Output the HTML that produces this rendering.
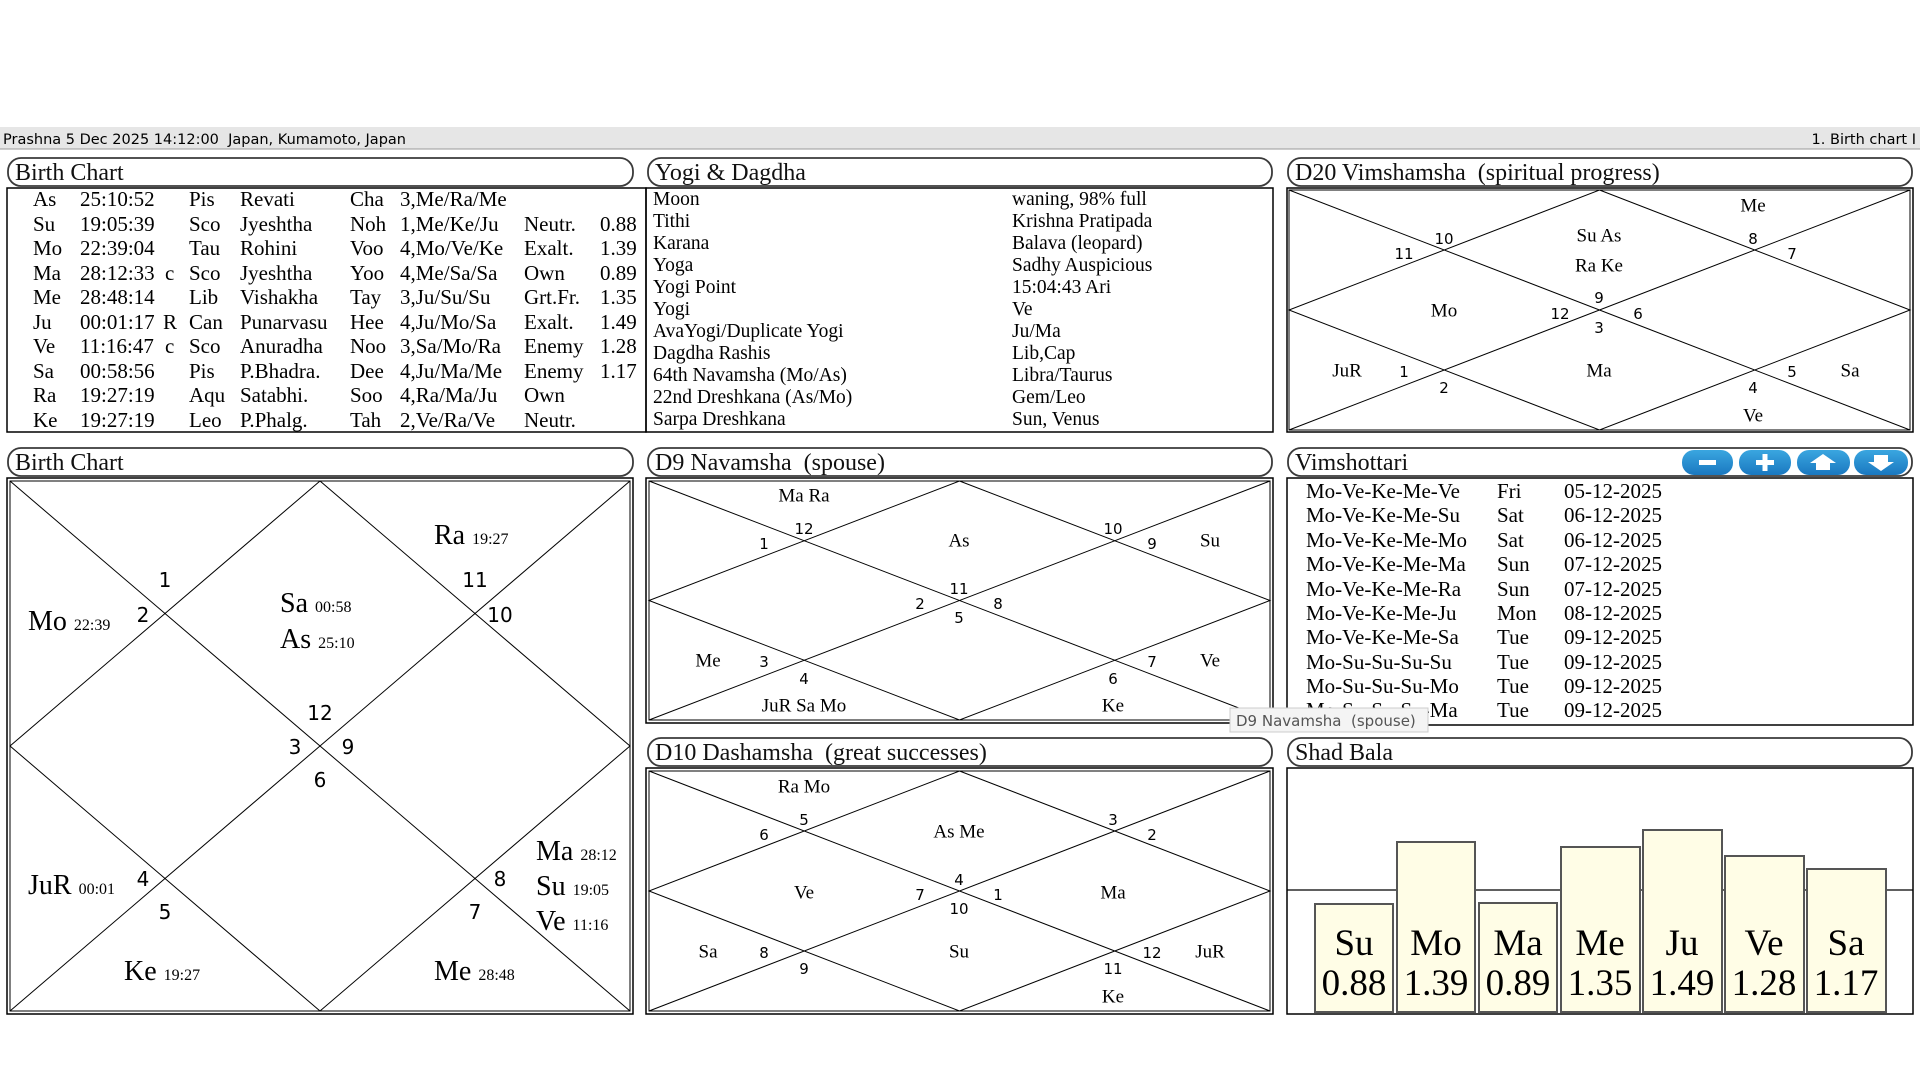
<!DOCTYPE html>
<html><head><meta charset="utf-8"><style>
html,body{margin:0;padding:0;background:#fff;width:1920px;height:1080px;overflow:hidden}
svg{display:block}
.s{font-family:"Liberation Serif",serif;fill:#000}
.n{font-family:"DejaVu Sans","Liberation Sans",sans-serif;fill:#000}
.t{font-family:"Liberation Serif",serif;font-size:24px;fill:#111}
</style></head><body>
<svg width="1920" height="1080" viewBox="0 0 1920 1080" xmlns="http://www.w3.org/2000/svg">
<!-- header -->
<rect x="0" y="127" width="1920" height="22" fill="#e6e6e6"/>
<line x1="0" y1="149" x2="1920" y2="149" stroke="#999" stroke-width="1"/>
<text x="3" y="144" font-family="DejaVu Sans, sans-serif" font-size="14.5" fill="#000">Prashna 5 Dec 2025 14:12:00&#160;&#160;Japan, Kumamoto, Japan</text>
<text x="1916" y="144" text-anchor="end" font-family="DejaVu Sans, sans-serif" font-size="14.5" fill="#000">1. Birth chart I</text>

<!-- title bars -->
<g fill="#fff" stroke="#3a3a3a" stroke-width="1.8">
<rect x="8" y="158" width="625" height="28" rx="13"/>
<rect x="648" y="158" width="624" height="28" rx="13"/>
<rect x="1288" y="158" width="624" height="28" rx="13"/>
<rect x="8" y="448" width="625" height="28" rx="13"/>
<rect x="648" y="448" width="624" height="28" rx="13"/>
<rect x="1288" y="448" width="624" height="28" rx="13"/>
<rect x="648" y="738" width="624" height="28" rx="13"/>
<rect x="1288" y="738" width="624" height="28" rx="13"/>
</g>
<g class="t">
<text x="15" y="180">Birth Chart</text>
<text x="655" y="180">Yogi &amp; Dagdha</text>
<text x="1295" y="180">D20 Vimshamsha&#160;&#160;(spiritual progress)</text>
<text x="15" y="470">Birth Chart</text>
<text x="655" y="470">D9 Navamsha&#160;&#160;(spouse)</text>
<text x="1295" y="470">Vimshottari</text>
<text x="655" y="760">D10 Dashamsha&#160;&#160;(great successes)</text>
<text x="1295" y="760">Shad Bala</text>
</g>

<!-- buttons -->
<defs><linearGradient id="bg" x1="0" y1="0" x2="0" y2="1"><stop offset="0" stop-color="#3aa6e0"/><stop offset="1" stop-color="#1a78c0"/></linearGradient></defs>
<g fill="url(#bg)">
<rect x="1682" y="450" width="51" height="25" rx="12"/>
<rect x="1739" y="450" width="52" height="25" rx="12"/>
<rect x="1797" y="450" width="53" height="25" rx="12"/>
<rect x="1854" y="450" width="54" height="25" rx="12"/>
</g>
<g fill="#fff">
<rect x="1699" y="460" width="17" height="5"/>
<rect x="1756" y="460" width="18" height="5"/><rect x="1762.5" y="454" width="5" height="17"/>
<polygon points="1823,454 1836,463 1830,463 1830,470 1816,470 1816,463 1810,463"/>
<polygon points="1881,471 1894,462 1888,462 1888,455 1874,455 1874,462 1868,462"/>
</g>

<!-- content boxes -->
<g fill="none" stroke="#000" stroke-width="1.5">
<rect x="7" y="188" width="639" height="244"/>
<rect x="646" y="188" width="627" height="244"/>
<rect x="1287" y="188" width="626" height="244"/>
<rect x="7" y="478" width="626" height="536"/>
<rect x="646" y="478" width="627" height="245"/>
<rect x="1287" y="478" width="626" height="247"/>
<rect x="646" y="768" width="627" height="246"/>
<rect x="1287" y="768" width="626" height="246"/>
</g>

<!-- Birth chart table -->
<g class="s" font-size="21">
<text y="206"><tspan x="33">As</tspan><tspan x="80">25:10:52</tspan><tspan x="189">Pis</tspan><tspan x="240">Revati</tspan><tspan x="350">Cha</tspan><tspan x="400">3,Me/Ra/Me</tspan></text>
<text y="231"><tspan x="33">Su</tspan><tspan x="80">19:05:39</tspan><tspan x="189">Sco</tspan><tspan x="240">Jyeshtha</tspan><tspan x="350">Noh</tspan><tspan x="400">1,Me/Ke/Ju</tspan><tspan x="524">Neutr.</tspan><tspan x="600">0.88</tspan></text>
<text y="255"><tspan x="33">Mo</tspan><tspan x="80">22:39:04</tspan><tspan x="189">Tau</tspan><tspan x="240">Rohini</tspan><tspan x="350">Voo</tspan><tspan x="400">4,Mo/Ve/Ke</tspan><tspan x="524">Exalt.</tspan><tspan x="600">1.39</tspan></text>
<text y="280"><tspan x="33">Ma</tspan><tspan x="80">28:12:33</tspan><tspan x="165">c</tspan><tspan x="189">Sco</tspan><tspan x="240">Jyeshtha</tspan><tspan x="350">Yoo</tspan><tspan x="400">4,Me/Sa/Sa</tspan><tspan x="524">Own</tspan><tspan x="600">0.89</tspan></text>
<text y="304"><tspan x="33">Me</tspan><tspan x="80">28:48:14</tspan><tspan x="189">Lib</tspan><tspan x="240">Vishakha</tspan><tspan x="350">Tay</tspan><tspan x="400">3,Ju/Su/Su</tspan><tspan x="524">Grt.Fr.</tspan><tspan x="600">1.35</tspan></text>
<text y="329"><tspan x="33">Ju</tspan><tspan x="80">00:01:17</tspan><tspan x="163">R</tspan><tspan x="189">Can</tspan><tspan x="240">Punarvasu</tspan><tspan x="350">Hee</tspan><tspan x="400">4,Ju/Mo/Sa</tspan><tspan x="524">Exalt.</tspan><tspan x="600">1.49</tspan></text>
<text y="353"><tspan x="33">Ve</tspan><tspan x="80">11:16:47</tspan><tspan x="165">c</tspan><tspan x="189">Sco</tspan><tspan x="240">Anuradha</tspan><tspan x="350">Noo</tspan><tspan x="400">3,Sa/Mo/Ra</tspan><tspan x="524">Enemy</tspan><tspan x="600">1.28</tspan></text>
<text y="378"><tspan x="33">Sa</tspan><tspan x="80">00:58:56</tspan><tspan x="189">Pis</tspan><tspan x="240">P.Bhadra.</tspan><tspan x="350">Dee</tspan><tspan x="400">4,Ju/Ma/Me</tspan><tspan x="524">Enemy</tspan><tspan x="600">1.17</tspan></text>
<text y="402"><tspan x="33">Ra</tspan><tspan x="80">19:27:19</tspan><tspan x="189">Aqu</tspan><tspan x="240">Satabhi.</tspan><tspan x="350">Soo</tspan><tspan x="400">4,Ra/Ma/Ju</tspan><tspan x="524">Own</tspan></text>
<text y="427"><tspan x="33">Ke</tspan><tspan x="80">19:27:19</tspan><tspan x="189">Leo</tspan><tspan x="240">P.Phalg.</tspan><tspan x="350">Tah</tspan><tspan x="400">2,Ve/Ra/Ve</tspan><tspan x="524">Neutr.</tspan></text>
</g>

<!-- Yogi table -->
<g class="s" font-size="19.5">
<text y="205"><tspan x="653">Moon</tspan><tspan x="1012">waning, 98% full</tspan></text>
<text y="227"><tspan x="653">Tithi</tspan><tspan x="1012">Krishna Pratipada</tspan></text>
<text y="249"><tspan x="653">Karana</tspan><tspan x="1012">Balava (leopard)</tspan></text>
<text y="271"><tspan x="653">Yoga</tspan><tspan x="1012">Sadhy Auspicious</tspan></text>
<text y="293"><tspan x="653">Yogi Point</tspan><tspan x="1012">15:04:43 Ari</tspan></text>
<text y="315"><tspan x="653">Yogi</tspan><tspan x="1012">Ve</tspan></text>
<text y="337"><tspan x="653">AvaYogi/Duplicate Yogi</tspan><tspan x="1012">Ju/Ma</tspan></text>
<text y="359"><tspan x="653">Dagdha Rashis</tspan><tspan x="1012">Lib,Cap</tspan></text>
<text y="381"><tspan x="653">64th Navamsha (Mo/As)</tspan><tspan x="1012">Libra/Taurus</tspan></text>
<text y="403"><tspan x="653">22nd Dreshkana (As/Mo)</tspan><tspan x="1012">Gem/Leo</tspan></text>
<text y="425"><tspan x="653">Sarpa Dreshkana</tspan><tspan x="1012">Sun, Venus</tspan></text>
</g>

<!-- Vimshottari -->
<g class="s" font-size="21">
<text y="498"><tspan x="1306">Mo-Ve-Ke-Me-Ve</tspan><tspan x="1497">Fri</tspan><tspan x="1564">05-12-2025</tspan></text>
<text y="522"><tspan x="1306">Mo-Ve-Ke-Me-Su</tspan><tspan x="1497">Sat</tspan><tspan x="1564">06-12-2025</tspan></text>
<text y="547"><tspan x="1306">Mo-Ve-Ke-Me-Mo</tspan><tspan x="1497">Sat</tspan><tspan x="1564">06-12-2025</tspan></text>
<text y="571"><tspan x="1306">Mo-Ve-Ke-Me-Ma</tspan><tspan x="1497">Sun</tspan><tspan x="1564">07-12-2025</tspan></text>
<text y="596"><tspan x="1306">Mo-Ve-Ke-Me-Ra</tspan><tspan x="1497">Sun</tspan><tspan x="1564">07-12-2025</tspan></text>
<text y="620"><tspan x="1306">Mo-Ve-Ke-Me-Ju</tspan><tspan x="1497">Mon</tspan><tspan x="1564">08-12-2025</tspan></text>
<text y="644"><tspan x="1306">Mo-Ve-Ke-Me-Sa</tspan><tspan x="1497">Tue</tspan><tspan x="1564">09-12-2025</tspan></text>
<text y="669"><tspan x="1306">Mo-Su-Su-Su-Su</tspan><tspan x="1497">Tue</tspan><tspan x="1564">09-12-2025</tspan></text>
<text y="693"><tspan x="1306">Mo-Su-Su-Su-Mo</tspan><tspan x="1497">Tue</tspan><tspan x="1564">09-12-2025</tspan></text>
<text y="717"><tspan x="1306">Mo-Su-Su-Su-Ma</tspan><tspan x="1497">Tue</tspan><tspan x="1564">09-12-2025</tspan></text>
</g>

<!-- Shad Bala -->
<line x1="1287" y1="890" x2="1913" y2="890" stroke="#000" stroke-width="1.2"/>
<g fill="#fffde6" stroke="#555" stroke-width="2">
<rect x="1315" y="904" width="78" height="108"/>
<rect x="1397" y="842" width="78" height="170"/>
<rect x="1479" y="903" width="78" height="109"/>
<rect x="1561" y="847" width="79" height="165"/>
<rect x="1643" y="830" width="79" height="182"/>
<rect x="1725" y="856" width="79" height="156"/>
<rect x="1807" y="869" width="79" height="143"/>
</g>
<g class="s" font-size="37" text-anchor="middle">
<text x="1354" y="955">Su</text><text x="1354" y="995">0.88</text>
<text x="1436" y="955">Mo</text><text x="1436" y="995">1.39</text>
<text x="1518" y="955">Ma</text><text x="1518" y="995">0.89</text>
<text x="1600" y="955">Me</text><text x="1600" y="995">1.35</text>
<text x="1682" y="955">Ju</text><text x="1682" y="995">1.49</text>
<text x="1764" y="955">Ve</text><text x="1764" y="995">1.28</text>
<text x="1846" y="955">Sa</text><text x="1846" y="995">1.17</text>
</g>

<!-- Birth chart (main) -->
<g fill="none" stroke="#000" stroke-width="1">
<rect x="10" y="481" width="620" height="530"/>
<line x1="10" y1="481" x2="630" y2="1011"/><line x1="630" y1="481" x2="10" y2="1011"/>
<polygon points="320,481 630,746 320,1011 10,746"/>
</g>
<g class="n" font-size="20" text-anchor="middle" dominant-baseline="central">
<text x="165" y="580">1</text><text x="143" y="615">2</text>
<text x="475" y="580">11</text><text x="500" y="615">10</text>
<text x="320" y="713">12</text><text x="295" y="747">3</text><text x="348" y="747">9</text><text x="320" y="780">6</text>
<text x="143" y="879">4</text><text x="165" y="912">5</text>
<text x="500" y="879">8</text><text x="475" y="912">7</text>
</g>
<g class="s" font-size="28">
<text x="28" y="630">Mo <tspan font-size="16">22:39</tspan></text>
<text x="280" y="612">Sa <tspan font-size="16">00:58</tspan></text>
<text x="280" y="648">As <tspan font-size="16">25:10</tspan></text>
<text x="434" y="544">Ra <tspan font-size="16">19:27</tspan></text>
<text x="28" y="894">JuR <tspan font-size="16">00:01</tspan></text>
<text x="124" y="980">Ke <tspan font-size="16">19:27</tspan></text>
<text x="434" y="980">Me <tspan font-size="16">28:48</tspan></text>
<text x="536" y="860">Ma <tspan font-size="16">28:12</tspan></text>
<text x="536" y="895">Su <tspan font-size="16">19:05</tspan></text>
<text x="536" y="930">Ve <tspan font-size="16">11:16</tspan></text>
</g>

<!-- D9 -->
<g fill="none" stroke="#000" stroke-width="1">
<rect x="649" y="481" width="621" height="239"/>
<line x1="649" y1="481" x2="1270" y2="720"/><line x1="1270" y1="481" x2="649" y2="720"/>
<polygon points="959.5,481 1270,600.5 959.5,720 649,600.5"/>
</g>
<g class="n" font-size="15" text-anchor="middle" dominant-baseline="central">
<text x="804" y="529">12</text><text x="764" y="544">1</text>
<text x="1113" y="529">10</text><text x="1152" y="544">9</text>
<text x="959" y="589">11</text><text x="920" y="604">2</text><text x="998" y="604">8</text><text x="959" y="618">5</text>
<text x="764" y="662">3</text><text x="804" y="679">4</text>
<text x="1113" y="679">6</text><text x="1152" y="662">7</text>
</g>
<g class="s" font-size="19" text-anchor="middle" dominant-baseline="central">
<text x="804" y="496">Ma Ra</text>
<text x="959" y="541">As</text>
<text x="1210" y="541">Su</text>
<text x="708" y="661">Me</text>
<text x="1210" y="661">Ve</text>
<text x="804" y="706">JuR Sa Mo</text>
<text x="1113" y="706">Ke</text>
</g>

<!-- D10 -->
<g fill="none" stroke="#000" stroke-width="1">
<rect x="649" y="771" width="621" height="240"/>
<line x1="649" y1="771" x2="1270" y2="1011"/><line x1="1270" y1="771" x2="649" y2="1011"/>
<polygon points="959.5,771 1270,891 959.5,1011 649,891"/>
</g>
<g class="n" font-size="15" text-anchor="middle" dominant-baseline="central">
<text x="804" y="820">5</text><text x="764" y="835">6</text>
<text x="1113" y="820">3</text><text x="1152" y="835">2</text>
<text x="959" y="880">4</text><text x="920" y="895">7</text><text x="998" y="895">1</text><text x="959" y="909">10</text>
<text x="764" y="953">8</text><text x="804" y="969">9</text>
<text x="1113" y="969">11</text><text x="1152" y="953">12</text>
</g>
<g class="s" font-size="19" text-anchor="middle" dominant-baseline="central">
<text x="804" y="787">Ra Mo</text>
<text x="959" y="832">As Me</text>
<text x="804" y="893">Ve</text>
<text x="1113" y="893">Ma</text>
<text x="708" y="952">Sa</text>
<text x="959" y="952">Su</text>
<text x="1210" y="952">JuR</text>
<text x="1113" y="997">Ke</text>
</g>

<!-- D20 -->
<g fill="none" stroke="#000" stroke-width="1">
<rect x="1289" y="190" width="621" height="240"/>
<line x1="1289" y1="190" x2="1910" y2="430"/><line x1="1910" y1="190" x2="1289" y2="430"/>
<polygon points="1599.5,190 1910,310 1599.5,430 1289,310"/>
</g>
<g class="n" font-size="15" text-anchor="middle" dominant-baseline="central">
<text x="1444" y="239">10</text><text x="1404" y="254">11</text>
<text x="1753" y="239">8</text><text x="1792" y="254">7</text>
<text x="1599" y="298">9</text><text x="1560" y="314">12</text><text x="1638" y="314">6</text><text x="1599" y="328">3</text>
<text x="1404" y="372">1</text><text x="1444" y="388">2</text>
<text x="1753" y="388">4</text><text x="1792" y="372">5</text>
</g>
<g class="s" font-size="19" text-anchor="middle" dominant-baseline="central">
<text x="1753" y="206">Me</text>
<text x="1599" y="236">Su As</text>
<text x="1599" y="266">Ra Ke</text>
<text x="1444" y="311">Mo</text>
<text x="1347" y="371">JuR</text>
<text x="1599" y="371">Ma</text>
<text x="1850" y="371">Sa</text>
<text x="1753" y="416">Ve</text>
</g>

<!-- tooltip -->
<rect x="1230" y="708" width="198" height="24" fill="#f4f4f4" stroke="#ccc" stroke-width="1"/>
<text x="1236" y="726" font-family="DejaVu Sans, sans-serif" font-size="15" fill="#555">D9 Navamsha&#160;&#160;(spouse)</text>
</svg>
</body></html>
